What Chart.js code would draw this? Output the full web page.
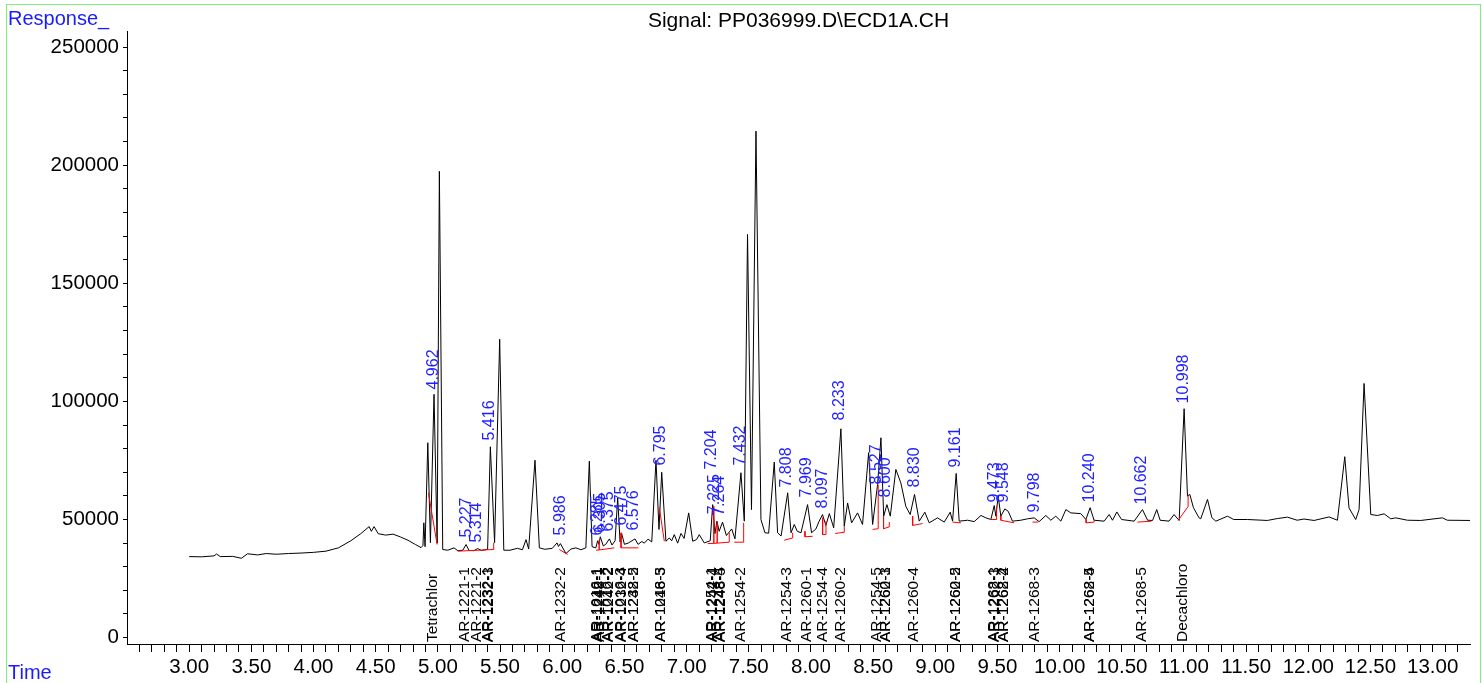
<!DOCTYPE html>
<html>
<head>
<meta charset="utf-8">
<title>Signal: PP036999.D\ECD1A.CH</title>
<script src="https://cdn.jsdelivr.net/npm/chart.js@4.4.0/dist/chart.umd.min.js"></script>
<style>
  html, body { margin: 0; padding: 0; background: #fff; }
  #wrap { position: relative; width: 1482px; height: 683px; overflow: hidden; }
  #chromChart { position: absolute; left: 0; top: 0; }
  #frame { position: absolute; left: 6px; top: 4px; width: 1475px; height: 700px; border: 1px solid #7df27d; box-sizing: border-box; pointer-events: none; }
  .corner { position: absolute; font-family: 'Liberation Sans', Arial, sans-serif; font-size: 20px; line-height: 20px; color: #1a1aff; }
</style>
</head>
<body>
<div id="wrap">
  <canvas id="chromChart" width="1482" height="683"></canvas>
  <div id="frame"></div>
  <div class="corner" style="left:8px; top:8px;">Response_</div>
  <div class="corner" style="left:8px; top:662px;">Time</div>
</div>
<script>
// Chart title
const signalTitle = 'Signal: PP036999.D\\ECD1A.CH';

// Detector trace (time in min, response)
const traceTimes = [
  3.00, 3.10, 3.20, 3.22, 3.25, 3.35, 3.42, 3.47, 3.55, 3.62, 3.70, 3.80, 3.90, 4.00, 4.10, 4.20,
  4.30, 4.38, 4.447, 4.465, 4.487, 4.52, 4.58, 4.64, 4.70, 4.76, 4.82, 4.865, 4.880, 4.887, 4.897,
  4.919, 4.940, 4.969, 4.994, 5.012, 5.039, 5.08, 5.13, 5.16, 5.20, 5.227, 5.25, 5.29, 5.32, 5.35,
  5.40, 5.422, 5.456, 5.497, 5.53, 5.58, 5.64, 5.68, 5.709, 5.73, 5.781, 5.816, 5.86, 5.92, 5.958,
  5.97, 5.985, 6.03, 6.07, 6.11, 6.15, 6.19, 6.218, 6.24, 6.27, 6.285, 6.295, 6.306, 6.33, 6.35,
  6.379, 6.40, 6.425, 6.446, 6.465, 6.478, 6.50, 6.53, 6.585, 6.61, 6.64, 6.66, 6.69, 6.72, 6.754,
  6.778, 6.800, 6.834, 6.861, 6.88, 6.901, 6.928, 6.955, 6.98, 7.017, 7.049, 7.08, 7.102, 7.142,
  7.19, 7.210, 7.228, 7.244, 7.262, 7.289, 7.32, 7.363, 7.389, 7.437, 7.464, 7.490, 7.522, 7.558,
  7.598, 7.63, 7.66, 7.705, 7.732, 7.76, 7.813, 7.84, 7.866, 7.89, 7.92, 7.973, 8.005, 8.04, 8.066,
  8.093, 8.12, 8.148, 8.183, 8.241, 8.268, 8.295, 8.327, 8.375, 8.415, 8.464, 8.496, 8.536, 8.563,
  8.585, 8.611, 8.638, 8.683, 8.723, 8.763, 8.798, 8.833, 8.871, 8.916, 8.951, 9.018, 9.072, 9.12,
  9.139, 9.168, 9.192, 9.26, 9.313, 9.367, 9.407, 9.447, 9.474, 9.487, 9.506, 9.527, 9.559, 9.586,
  9.621, 9.688, 9.742, 9.795, 9.835, 9.889, 9.929, 9.969, 10.01, 10.05, 10.09, 10.17, 10.211,
  10.245, 10.277, 10.358, 10.398, 10.425, 10.46, 10.498, 10.599, 10.666, 10.707, 10.747, 10.781,
  10.808, 10.88, 10.92, 10.961, 11.001, 11.028, 11.047, 11.076, 11.121, 11.135, 11.189, 11.224,
  11.256, 11.35, 11.40, 11.51, 11.67, 11.75, 11.832, 11.91, 11.965, 12.046, 12.167, 12.234, 12.293,
  12.327, 12.381, 12.408, 12.448, 12.502, 12.556, 12.609, 12.663, 12.703, 12.797, 12.904, 13.078,
  13.118, 13.30
];
const traceResponses = [
  34300, 34200, 34600, 35400, 34300, 34400, 33600, 35500, 35000, 35600, 35300, 35600, 35800, 36100, 36600, 38000,
  41000, 44000, 47000, 45000, 47000, 44000, 43400, 43800, 42600, 41200, 39400, 38100, 39000, 48600, 38500,
  82500, 40200, 103000, 40000, 197400, 37300, 37000, 38000, 36800, 37000, 39400, 36900, 36800, 37700, 36900,
  37400, 80800, 40200, 126300, 37000, 37000, 37800, 37200, 41500, 37500, 75100, 38000, 37400, 37800, 40100,
  38600, 39800, 35600, 37500, 38000, 37200, 38000, 74700, 38500, 38000, 41000, 39500, 42700, 38800, 39500,
  41800, 39200, 41000, 59200, 40500, 44100, 39500, 40000, 41800, 39500, 40700, 40000, 41700, 40500, 75100,
  45800, 70000, 40800, 42200, 41000, 43600, 40000, 44100, 42000, 52800, 40800, 41500, 43600, 40100,
  41000, 56300, 44000, 49300, 45000, 48900, 43200, 46000, 41800, 69800, 49300, 170700, 54200, 214400,
  50000, 44400, 44200, 74300, 44400, 43000, 61300, 44400, 47900, 45000, 44400, 56300, 44400, 46000, 49300,
  52100, 47500, 52500, 46500, 88400, 47200, 57000, 48600, 52800, 47900, 78300, 47900, 64800, 84600,
  51400, 56300, 51400, 71200, 65500, 55600, 52100, 60600, 49300, 53100, 48600, 50700, 48900, 53100,
  49300, 69500, 49300, 49700, 49100, 51700, 50700, 50000, 55900, 51400, 59900, 51400, 54500, 53500,
  49300, 49700, 50300, 50700, 49100, 51700, 49700, 51400, 49300, 54200, 52800, 52500, 50000,
  55000, 49700, 49300, 52100, 49700, 53200, 50000, 49300, 54200, 49700, 49600, 54200,
  49700, 49300, 52100, 49600, 96900, 59900, 60600, 55000, 50700, 50300, 58500, 50800,
  49300, 51400, 50000, 50000, 49600, 50400, 51000, 49700, 50200, 49600, 51100, 49700, 76600,
  54900, 50000, 54200, 107600, 52100, 51700, 52400, 50300, 50700, 49700, 49600, 50700,
  49700, 49600
];

// Integration baselines and drop lines (null breaks the line)
const baselineTimes = [
  4.924, 4.994, null,
  5.160, 5.449, 5.449, null,
  5.977, 6.044, null,
  6.272, 6.297, 6.297, 6.297, 6.419, null,
  6.473, 6.473, 6.612, null,
  6.781, 6.821, null,
  7.170, 7.219, 7.219, 7.219, 7.246, 7.246, 7.246, 7.343, 7.343, null,
  7.383, 7.459, 7.459, null,
  7.785, 7.853, 7.853, null,
  7.952, 7.952, 8.014, null,
  8.094, 8.094, 8.121, 8.121, null,
  8.195, 8.268, 8.268, null,
  8.496, 8.541, 8.541, null,
  8.584, 8.584, 8.630, 8.630, null,
  8.818, 8.818, 8.898, null,
  9.139, 9.206, null,
  9.441, 9.493, 9.493, null,
  9.527, 9.527, 9.634, null,
  9.782, 9.827, null,
  10.213, 10.213, 10.277, 10.277, null,
  10.626, 10.739, null,
  10.953, 11.033, 11.033
];
const baselineResponses = [
  61300, 39400, null,
  36600, 37300, 40200, null,
  37300, 35200, null,
  37000, 37100, 41200, 37100, 38000, null,
  44400, 38000, 38000, null,
  55000, 40800, null,
  39800, 39900, 55600, 39900, 40000, 48600, 40000, 40400, 44400, null,
  40400, 40400, 48600, null,
  41200, 42200, 44400, null,
  45000, 42700, 42900, null,
  50700, 43600, 43700, 49300, null,
  44100, 44600, 47200, null,
  45800, 46100, 64800, null,
  51400, 46100, 46900, 48900, null,
  51400, 47500, 48300, null,
  48900, 48600, null,
  50000, 50000, 55600, null,
  51400, 49700, 48600, null,
  48900, 48900, null,
  50000, 48600, 48900, 49700, null,
  48900, 49300, null,
  49600, 55500, 60600
];

// Retention time labels and the response where each label starts
const peakTimes = ['4.962', '5.227', '5.314', '5.416', '5.986', '6.285', '6.305', '6.375', '6.475', '6.576',
  '6.795', '7.204', '7.225', '7.264', '7.432', '7.808', '7.969', '8.097', '8.233', '8.527', '8.600',
  '8.830', '9.161', '9.473', '9.548', '9.798', '10.240', '10.662', '10.998'];
const peakLabelLevels = [104200, 41500, 39400, 82600, 42400, 42400, 43600, 44100, 46600, 44500,
  72000, 70300, 51400, 50700, 72000, 62700, 58500, 53800, 91100, 64000, 58500,
  62700, 71200, 56400, 56400, 52100, 56400, 55500, 98300];

// Compound names shown along the time axis
const compoundNames = ['Tetrachlor', 'AR-1221-1', 'AR-1221-2', 'AR-1232-1', 'AR-1232-3', 'AR-1232-2',
  'AR-1016-1', 'AR-1242-1', 'AR-1248-1', 'AR-1016-2', 'AR-1242-2', 'AR-1016-3', 'AR-1232-4',
  'AR-1232-5', 'AR-1248-2', 'AR-1016-5', 'AR-1248-3', 'AR-1254-1', 'AR-1242-4', 'AR-1248-4',
  'AR-1248-5', 'AR-1254-2', 'AR-1254-3', 'AR-1260-1', 'AR-1254-4', 'AR-1260-2', 'AR-1254-5',
  'AR-1260-3', 'AR-1262-1', 'AR-1260-4', 'AR-1260-5', 'AR-1262-2', 'AR-1268-1', 'AR-1262-3',
  'AR-1268-2', 'AR-1262-4', 'AR-1268-3', 'AR-1268-4', 'AR-1262-5', 'AR-1268-5', 'Decachloro'];
const compoundTimes = [4.962, 5.218, 5.314, 5.404, 5.408, 5.990,
  6.280, 6.288, 6.300, 6.368, 6.372, 6.472, 6.476,
  6.572, 6.576, 6.792, 6.796, 7.204, 7.210, 7.268,
  7.276, 7.432, 7.808, 7.969, 8.097, 8.240, 8.527,
  8.600, 8.604, 8.830, 9.161, 9.165, 9.473, 9.478,
  9.548, 9.552, 9.798, 10.240, 10.244, 10.662, 10.990];

// Axis tick labels
const timeTickLabels = ['3.00', '3.50', '4.00', '4.50', '5.00', '5.50', '6.00', '6.50', '7.00', '7.50',
  '8.00', '8.50', '9.00', '9.50', '10.00', '10.50', '11.00', '11.50', '12.00', '12.50', '13.00'];
const responseTickLabels = ['0', '50000', '100000', '150000', '200000', '250000'];

const FONT = "'Liberation Sans', Arial, sans-serif";

// Function to pair times with responses for the line datasets
function toPoints(times, values) {
  return times.map((t, i) => (t === null ? { x: NaN, y: null } : { x: t, y: values[i] }));
}

// Plugin that writes the title, peak and compound labels
const peakLabelPlugin = {
  id: 'peakLabels',
  afterDatasetsDraw(chart) {
    const { ctx, chartArea } = chart;
    const xs = chart.scales.x;
    const ys = chart.scales.y;
    ctx.save();

    // title centred over the plot area
    ctx.fillStyle = '#000';
    ctx.font = '21px ' + FONT;
    ctx.textAlign = 'center';
    ctx.textBaseline = 'alphabetic';
    ctx.fillText(signalTitle, (chartArea.left + chartArea.right) / 2, 27);

    ctx.textAlign = 'left';
    ctx.textBaseline = 'middle';

    // blue retention times above the peaks
    ctx.fillStyle = '#1f1fff';
    ctx.font = '16px ' + FONT;
    peakTimes.forEach((label, i) => {
      const px = xs.getPixelForValue(parseFloat(label));
      const py = ys.getPixelForValue(peakLabelLevels[i]) - 2;
      ctx.save();
      ctx.translate(px, py);
      ctx.rotate(-Math.PI / 2);
      ctx.fillText(label, 0, 0);
      ctx.restore();
    });

    // black compound names standing on the time axis
    ctx.fillStyle = '#000';
    ctx.font = '15.5px ' + FONT;
    compoundNames.forEach((name, i) => {
      const px = xs.getPixelForValue(compoundTimes[i]);
      ctx.save();
      ctx.translate(px, chartArea.bottom - 2);
      ctx.rotate(-Math.PI / 2);
      ctx.fillText(name, 0, 0);
      ctx.restore();
    });
    ctx.restore();
  }
};

// Function to create the chromatogram
function createChromatogram(canvasId) {
  const ctx = document.getElementById(canvasId).getContext('2d');
  Chart.defaults.font.family = FONT;
  Chart.defaults.color = '#000';

  new Chart(ctx, {
    type: 'line',
    data: {
      datasets: [
        {
          label: 'Baseline',
          data: toPoints(baselineTimes, baselineResponses),
          borderColor: '#ff0000',
          borderWidth: 1,
          pointRadius: 0,
          tension: 0,
          spanGaps: false,
          order: 0
        },
        {
          label: 'ECD1A',
          data: toPoints(traceTimes, traceResponses),
          borderColor: '#000000',
          borderWidth: 1,
          pointRadius: 0,
          tension: 0,
          order: 1
        }
      ]
    },
    options: {
      responsive: false,
      animation: false,
      events: [],
      layout: { padding: { left: 0, right: 12, top: 31, bottom: 0 } },
      scales: {
        x: {
          type: 'linear',
          min: 2.5,
          max: 13.3,
          afterBuildTicks: scale => {
            const ticks = [];
            for (let i = 26; i <= 132; i++) ticks.push({ value: i / 10 });
            scale.ticks = ticks;
          },
          afterFit: scale => { scale.height = 39; },
          ticks: {
            autoSkip: false,
            maxRotation: 0,
            padding: 3,
            font: { size: 20.5 },
            color: '#000',
            callback: value => {
              const s = Number(value).toFixed(2);
              return timeTickLabels.includes(s) ? s : '';
            }
          },
          grid: { display: true, drawOnChartArea: false, drawTicks: true, tickLength: 8, color: '#000', tickColor: '#000' },
          border: { display: true, color: '#000', width: 1 }
        },
        y: {
          type: 'linear',
          min: -2700,
          max: 256800,
          afterBuildTicks: scale => {
            const ticks = [];
            for (let v = 0; v <= 250000; v += 10000) ticks.push({ value: v });
            scale.ticks = ticks;
          },
          afterFit: scale => { scale.width = 127; },
          ticks: {
            autoSkip: false,
            padding: 4,
            font: { size: 20.5 },
            color: '#000',
            callback: value => {
              const s = String(Math.round(value));
              return responseTickLabels.includes(s) ? s : '';
            }
          },
          grid: { display: true, drawOnChartArea: false, drawTicks: true, tickLength: 4, color: '#000', tickColor: '#000' },
          border: { display: true, color: '#000', width: 1 }
        }
      },
      plugins: {
        legend: { display: false },
        tooltip: { enabled: false },
        title: { display: false }
      }
    },
    plugins: [peakLabelPlugin]
  });
}

createChromatogram('chromChart');
</script>
</body>
</html>
